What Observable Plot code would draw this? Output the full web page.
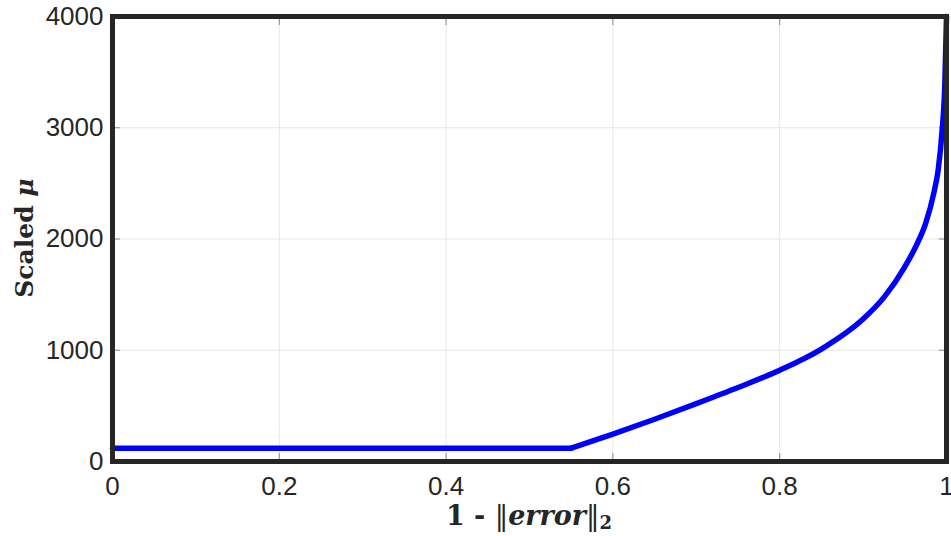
<!DOCTYPE html>
<html>
<head>
<meta charset="utf-8">
<script src="https://cdn.jsdelivr.net/npm/d3@7"></script>
<script src="https://cdn.jsdelivr.net/npm/@observablehq/plot@0.6"></script>
<style>
  html, body { margin: 0; padding: 0; background: #fff; }
  #chart { width: 951px; height: 536px; }
</style>
</head>
<body>
<div id="chart"></div>
<script>
// Data
const errScore = [0, 0.55, 0.6, 0.65, 0.7, 0.75, 0.8, 0.85, 0.9, 0.925, 0.95, 0.965, 0.975, 0.985, 0.99, 0.995, 0.998, 1.0];
const scaledMu = [120, 120, 247, 380, 520, 665, 820, 1010, 1280, 1475, 1750, 1960, 2140, 2420, 2620, 3000, 3390, 4000];
const xTicks = [0, 0.2, 0.4, 0.6, 0.8, 1];
const xTickLabels = ["0", "0.2", "0.4", "0.6", "0.8", "1"];
const yTicks = [0, 1000, 2000, 3000, 4000];
const yTickLabels = ["0", "1000", "2000", "3000", "4000"];
const kink = 0.55;

const rows = errScore.map((x, i) => ({x, y: scaledMu[i]}));
const flatRows = rows.filter(d => d.x <= kink);
const riseRows = rows.filter(d => d.x >= kink);

const tickFont = "'Liberation Sans', Arial, Helvetica, sans-serif";
const ink = "#262626";

const svg = Plot.plot({
  width: 951,
  height: 536,
  marginLeft: 112,
  marginRight: 5,
  marginTop: 16,
  marginBottom: 75,
  style: {background: "#fff", fontFamily: tickFont, color: ink, overflow: "visible"},
  x: {domain: [0, 1]},
  y: {domain: [0, 4000]},
  marks: [
    Plot.gridX(xTicks, {stroke: "#e6e6e6", strokeOpacity: 1, strokeWidth: 1}),
    Plot.gridY(yTicks, {stroke: "#e6e6e6", strokeOpacity: 1, strokeWidth: 1}),
    Plot.axisX(xTicks, {anchor: "bottom", tickSize: -8, tickFormat: () => "", stroke: "#8c8c8c", label: null}),
    Plot.axisX(xTicks, {anchor: "top", tickSize: -8, tickFormat: () => "", stroke: "#8c8c8c", label: null}),
    Plot.axisY(yTicks, {anchor: "left", tickSize: -8, tickFormat: () => "", stroke: "#8c8c8c", label: null}),
    Plot.axisY(yTicks, {anchor: "right", tickSize: -8, tickFormat: () => "", stroke: "#8c8c8c", label: null}),
    Plot.axisX(xTicks, {anchor: "bottom", tickSize: 0, tickPadding: 15, fontSize: 26, fill: ink,
      tickFormat: (d, i) => xTickLabels[i], label: null}),
    Plot.axisY(yTicks, {anchor: "left", tickSize: 0, tickPadding: 9, fontSize: 26, fill: ink,
      tickFormat: (d, i) => yTickLabels[i], label: null}),
    Plot.line(flatRows, {x: "x", y: "y", stroke: "#0000ff", strokeWidth: 5.5}),
    Plot.line(riseRows, {x: "x", y: "y", stroke: "#0000ff", strokeWidth: 5.5, curve: "monotone-x", strokeLinejoin: "round"}),
    Plot.frame({stroke: ink, strokeWidth: 5})
  ]
});

// Axis titles (LaTeX-like serif bold) added as real SVG text
const s = d3.select(svg);
const serif = "'DejaVu Serif', 'Liberation Serif', serif";
const yl = s.append("text")
  .attr("transform", "translate(33,238) rotate(-90)")
  .attr("text-anchor", "middle")
  .attr("font-family", serif)
  .attr("font-weight", "bold")
  .attr("font-size", 25)
  .attr("fill", ink);
yl.append("tspan").text("Scaled ");
yl.append("tspan").attr("font-style", "italic").text("μ");

const xl = s.append("text")
  .attr("x", 529).attr("y", 525)
  .attr("text-anchor", "middle")
  .attr("font-family", serif)
  .attr("font-size", 27)
  .attr("fill", ink);
xl.append("tspan").attr("font-weight", "bold").text("1 - ");
xl.append("tspan").attr("font-weight", "normal").text("‖");
xl.append("tspan").attr("font-weight", "bold").attr("font-style", "italic").text("error");
xl.append("tspan").attr("font-weight", "normal").text("‖");
xl.append("tspan").attr("font-weight", "bold").attr("font-size", 18).attr("dy", 4).text("2");

document.getElementById("chart").appendChild(svg);
</script>
</body>
</html>
